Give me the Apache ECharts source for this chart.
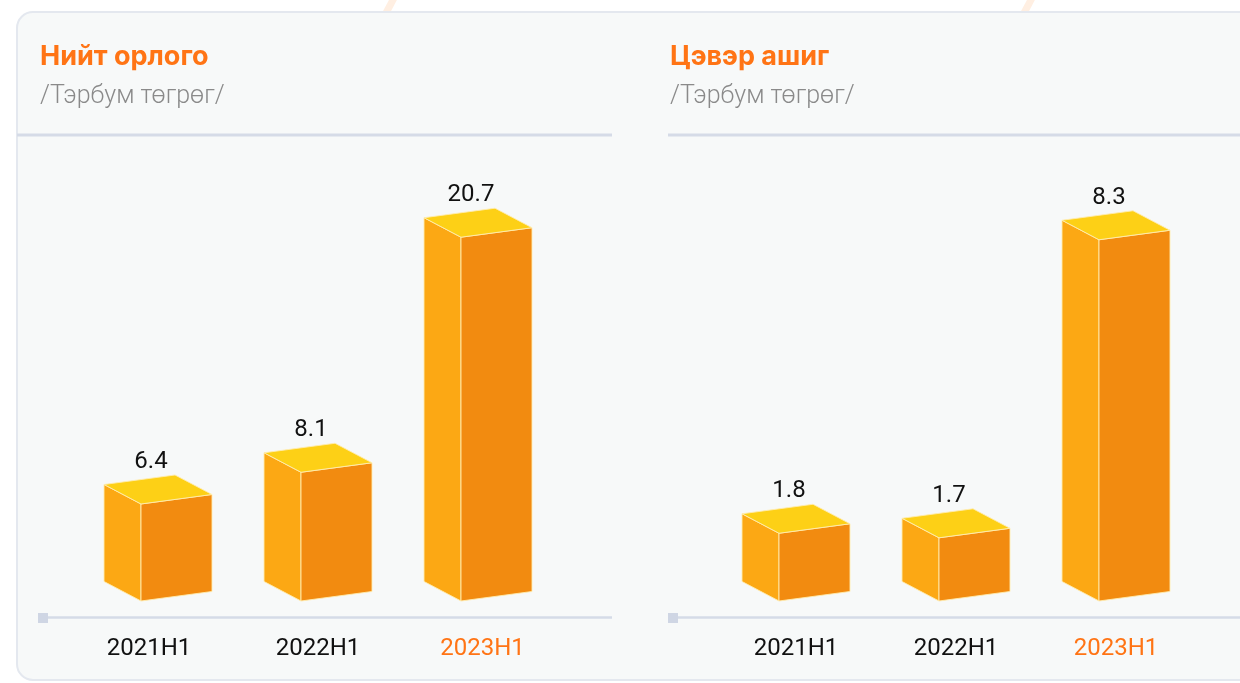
<!DOCTYPE html>
<html>
<head>
<meta charset="utf-8">
<script src="https://cdn.jsdelivr.net/npm/echarts@6/dist/echarts.min.js"></script>
<style>
  html, body { margin: 0; background: #fff; }
  #main { width: 1240px; height: 683px; }
</style>
</head>
<body>
<div id="main"></div>
<script>
var periods = ['2021H1', '2022H1', '2023H1'];
var revenue = [6.4, 8.1, 20.7];     // Нийт орлого
var netProfit = [1.8, 1.7, 8.3];    // Цэвэр ашиг
var titles = ['Нийт орлого', 'Цэвэр ашиг'];
var unit = '/Тэрбум төгрөг/';

var ORANGE = '#ff7415';
var LINE = '#d5dbe7';

// cube size in px
var FRONT_W = 71, DEPTH_X = 37, DEPTH_Y = 19.5, SLOPE = 9.5;

function renderBox(params, api) {
  var top = api.coord([api.value(0), api.value(1)]);
  var cx = top[0];
  var x0 = cx - (FRONT_W - DEPTH_X) / 2;   // left edge of front face
  var yt = top[1];
  var yb = params.coordSys.y + params.coordSys.height;
  var front = [[x0, yt], [x0 + FRONT_W, yt - SLOPE], [x0 + FRONT_W, yb - SLOPE], [x0, yb]];
  var side = [[x0 - DEPTH_X, yt - DEPTH_Y], [x0, yt], [x0, yb], [x0 - DEPTH_X, yb - DEPTH_Y]];
  var lid = [[x0 - DEPTH_X, yt - DEPTH_Y], [x0, yt], [x0 + FRONT_W, yt - SLOPE],
             [x0 + FRONT_W - DEPTH_X, yt - SLOPE - DEPTH_Y]];
  var edge = 'rgba(255,236,175,0.9)';
  return {
    type: 'group',
    children: [
      { type: 'polygon', shape: { points: side }, style: { fill: '#fca814', stroke: edge, lineWidth: 1 } },
      { type: 'polygon', shape: { points: front }, style: { fill: '#f28b10', stroke: edge, lineWidth: 1 } },
      { type: 'polygon', shape: { points: lid }, style: { fill: '#fdd016', stroke: edge, lineWidth: 1 } },
      {
        type: 'text',
        x: cx - 7,
        y: yt - SLOPE - DEPTH_Y - 13,
        style: {
          text: String(api.value(1)),
          font: '400 24px Roboto',
          fill: '#111',
          align: 'center',
          verticalAlign: 'middle'
        }
      }
    ]
  };
}

function catData(shifts) {
  return periods.map(function (p, i) {
    var ts = { padding: shifts[i] };
    if (i === periods.length - 1) ts.color = ORANGE;
    return { value: p, textStyle: ts };
  });
}

function xAxisFor(idx, shifts) {
  return {
    gridIndex: idx,
    type: 'category',
    data: catData(shifts),
    axisLine: { show: false },
    axisTick: { show: false },
    splitLine: { show: false },
    axisLabel: { margin: 36, fontSize: 24, color: '#111', fontFamily: 'Roboto' }
  };
}

function titleFor(text, left) {
  return {
    text: text,
    subtext: unit,
    left: left,
    top: 37,
    itemGap: 10,
    textStyle: { color: ORANGE, fontSize: 27, fontWeight: 'bold', fontFamily: 'Inter', lineHeight: 30 },
    subtextStyle: { color: '#8a8a8a', fontSize: 25, fontWeight: 300, fontFamily: 'Roboto', lineHeight: 30 }
  };
}

function axisDecor(x1, x2) {
  return [
    { type: 'line', z: 1, shape: { x1: x1 + 8, y1: 617.5, x2: x2, y2: 617.5 }, style: { stroke: LINE, lineWidth: 2.5 } },
    { type: 'rect', z: 1, shape: { x: x1, y: 613, width: 10, height: 10 }, style: { fill: '#cfd6e4' } }
  ];
}

var myChart = echarts.init(document.getElementById('main'));

var option = {
  backgroundColor: '#ffffff',
  animation: false,
  title: [titleFor(titles[0], 35), titleFor(titles[1], 665)],
  graphic: [
    { type: 'line', z: 0, shape: { x1: 394, y1: -2, x2: 386, y2: 13 }, style: { stroke: '#ffefe2', lineWidth: 7 } },
    { type: 'line', z: 0, shape: { x1: 1032, y1: -2, x2: 1024, y2: 13 }, style: { stroke: '#ffefe2', lineWidth: 7 } },
    { type: 'rect', z: 0, shape: { x: 17, y: 12, width: 1260, height: 668, r: 16 },
      style: { fill: '#f7f9f9', stroke: '#e4e8ef', lineWidth: 2 } },
    { type: 'line', z: 1, shape: { x1: 17, y1: 135, x2: 612, y2: 135 }, style: { stroke: LINE, lineWidth: 3 } },
    { type: 'line', z: 1, shape: { x1: 668, y1: 135, x2: 1240, y2: 135 }, style: { stroke: LINE, lineWidth: 3 } }
  ].concat(axisDecor(38, 612), axisDecor(668, 1240)),
  grid: [
    { left: 78, width: 480, top: 157, bottom: 82 },
    { left: 716, width: 480, top: 163, bottom: 82 }
  ],
  xAxis: [
    xAxisFor(0, [[0, 18, 4, 0], 0, [0, 0, 0, 9]]),
    xAxisFor(1, [0, 0, 0])
  ],
  yAxis: [
    { gridIndex: 0, type: 'value', min: 1.2, max: 25, show: false },
    { gridIndex: 1, type: 'value', min: 0.3, max: 10, show: false }
  ],
  series: [
    {
      name: titles[0],
      type: 'custom',
      xAxisIndex: 0,
      yAxisIndex: 0,
      renderItem: renderBox,
      data: revenue.map(function (v, i) { return [i, v]; })
    },
    {
      name: titles[1],
      type: 'custom',
      xAxisIndex: 1,
      yAxisIndex: 1,
      renderItem: renderBox,
      data: netProfit.map(function (v, i) { return [i, v]; })
    }
  ]
};

myChart.setOption(option);
</script>
</body>
</html>
